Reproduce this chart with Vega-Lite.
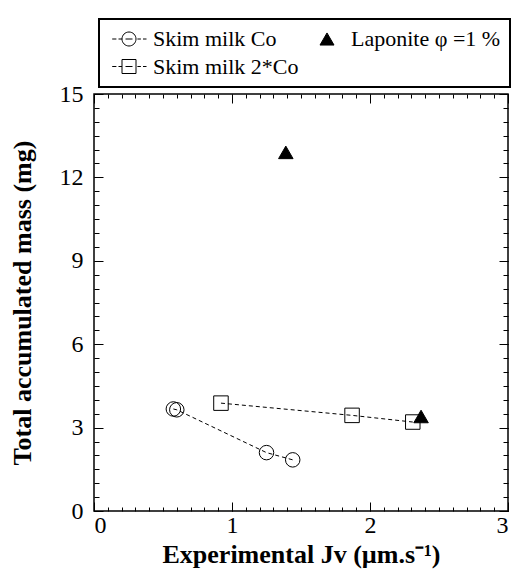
{
  "$schema": "https://vega.github.io/schema/vega-lite/v6.json",
  "width": 414,
  "height": 417,
  "autosize": "none",
  "padding": {"left": 94, "top": 94, "right": 4, "bottom": 68},
  "background": "white",
  "config": {
    "font": "Liberation Serif",
    "view": {"stroke": "black", "strokeWidth": 1.5},
    "axis": {
      "domain": false,
      "grid": false,
      "tickColor": "black",
      "tickWidth": 1,
      "labelColor": "black",
      "titleColor": "black",
      "labelFont": "Liberation Serif",
      "labelFontSize": 24,
      "titleFont": "Liberation Serif",
      "titleFontSize": 26,
      "titleFontWeight": "bold"
    },
    "legend": {
      "labelFont": "Liberation Serif",
      "labelFontSize": 22,
      "labelColor": "black",
      "strokeColor": "black",
      "fillColor": "white",
      "strokeWidth": 2
    }
  },
  "data": {
    "values": [
      {"series": "Skim milk Co", "jv": 0.575, "mass": 3.67},
      {"series": "Skim milk Co", "jv": 0.6, "mass": 3.64},
      {"series": "Skim milk Co", "jv": 1.25, "mass": 2.1},
      {"series": "Skim milk Co", "jv": 1.44, "mass": 1.84},
      {"series": "Skim milk 2*Co", "jv": 0.92, "mass": 3.88},
      {"series": "Skim milk 2*Co", "jv": 1.87, "mass": 3.44},
      {"series": "Skim milk 2*Co", "jv": 2.31, "mass": 3.2},
      {"series": "Laponite φ =1 %", "jv": 1.39, "mass": 12.9},
      {"series": "Laponite φ =1 %", "jv": 2.37, "mass": 3.4}
    ]
  },
  "resolve": {
    "axis": {"x": "independent", "y": "independent"},
    "scale": {"shape": "independent", "fill": "independent"}
  },
  "layer": [
    {
      "transform": [{"filter": "datum.series === 'Skim milk Co'"}],
      "mark": {"type": "line", "stroke": "black", "strokeWidth": 1, "strokeDash": [4, 3]},
      "encoding": {
        "x": {"field": "jv", "type": "quantitative", "scale": {"domain": [0, 3], "nice": false},
          "axis": {"orient": "bottom", "values": [0, 1, 2, 3], "tickSize": -9, "labelPadding": 11, "title": "Experimental Jv (µm.s⁻¹)", "titleFontSize": 26, "titlePadding": 4}},
        "y": {"field": "mass", "type": "quantitative", "scale": {"domain": [0, 15], "nice": false},
          "axis": {"orient": "left", "values": [0, 3, 6, 9, 12, 15], "tickSize": -9, "labelPadding": 20, "title": "Total accumulated mass (mg)", "titlePadding": 24}}
      }
    },
    {
      "transform": [{"filter": "datum.series === 'Skim milk 2*Co'"}],
      "mark": {"type": "line", "stroke": "black", "strokeWidth": 1, "strokeDash": [4, 3]},
      "encoding": {
        "x": {"field": "jv", "type": "quantitative",
          "axis": {"orient": "bottom", "values": [0,0.1,0.2,0.3,0.4,0.5,0.6,0.7,0.8,0.9,1,1.1,1.2,1.3,1.4,1.5,1.6,1.7,1.8,1.9,2,2.1,2.2,2.3,2.4,2.5,2.6,2.7,2.8,2.9,3], "tickSize": -4, "labels": false, "title": null}},
        "y": {"field": "mass", "type": "quantitative",
          "axis": {"orient": "left", "values": [0,0.5,1,1.5,2,2.5,3,3.5,4,4.5,5,5.5,6,6.5,7,7.5,8,8.5,9,9.5,10,10.5,11,11.5,12,12.5,13,13.5,14,14.5,15], "tickSize": -5, "labels": false, "title": null}}
      }
    },
    {
      "transform": [{"filter": "false"}],
      "mark": {"type": "point", "stroke": "black", "strokeWidth": 1, "opacity": 1},
      "encoding": {
        "x": {"field": "jv", "type": "quantitative",
          "axis": {"orient": "top", "values": [0, 1, 2, 3], "tickSize": -9, "labels": false, "title": null}},
        "y": {"field": "mass", "type": "quantitative",
          "axis": {"orient": "right", "values": [0, 3, 6, 9, 12, 15], "tickSize": -9, "labels": false, "title": null}},
        "shape": {"field": "series", "type": "nominal",
          "scale": {"domain": ["Skim milk Co", "Skim milk 2*Co", "Laponite φ =1 %"],
            "range": ["M-2.4,0L-1.8,0M-1.5,0L-1,0M-0.5,0L0.5,0M-1,0A1,1,0,1,0,1,0A1,1,0,1,0,-1,0M1.2,0L1.7,0M2,0L2.5,0", "M-2.4,0L-1.8,0M-1.5,0L-1,0M-1,-1L1,-1L1,1L-1,1ZM-0.5,0L0.5,0M1.2,0L1.7,0M2,0L2.5,0", "triangle-up"]},
          "legend": {
            "orient": "none", "legendX": 5, "legendY": -75, "columns": 2, "title": null,
            "padding": 9, "columnPadding": 7, "rowPadding": 5.5, "labelOffset": 13, "symbolSize": 196,
            "symbolOffset": 10, "labelFont": "Liberation Serif", "labelFontSize": 22, "symbolStrokeWidth": 1
          }},
        "fill": {"field": "series", "type": "nominal",
          "scale": {"domain": ["Skim milk Co", "Skim milk 2*Co", "Laponite φ =1 %"], "range": ["transparent", "transparent", "black"]},
          "legend": {"orient": "none", "legendX": 5, "legendY": -75, "columns": 2, "title": null,
            "padding": 9, "columnPadding": 7, "rowPadding": 5.5, "labelOffset": 13, "symbolSize": 196,
            "symbolOffset": 10}}
      }
    },
    {
      "mark": {"type": "point", "stroke": "black", "strokeWidth": 1, "opacity": 1, "size": 210},
      "encoding": {
        "x": {"field": "jv", "type": "quantitative",
          "axis": {"orient": "top", "values": [0,0.1,0.2,0.3,0.4,0.5,0.6,0.7,0.8,0.9,1,1.1,1.2,1.3,1.4,1.5,1.6,1.7,1.8,1.9,2,2.1,2.2,2.3,2.4,2.5,2.6,2.7,2.8,2.9,3], "tickSize": -4, "labels": false, "title": null}},
        "y": {"field": "mass", "type": "quantitative",
          "axis": {"orient": "right", "values": [0,0.5,1,1.5,2,2.5,3,3.5,4,4.5,5,5.5,6,6.5,7,7.5,8,8.5,9,9.5,10,10.5,11,11.5,12,12.5,13,13.5,14,14.5,15], "tickSize": -5, "labels": false, "title": null}},
        "shape": {"field": "series", "type": "nominal",
          "scale": {"domain": ["Skim milk Co", "Skim milk 2*Co", "Laponite φ =1 %"], "range": ["circle", "square", "triangle-up"]},
          "legend": null},
        "fill": {"field": "series", "type": "nominal",
          "scale": {"domain": ["Skim milk Co", "Skim milk 2*Co", "Laponite φ =1 %"], "range": ["transparent", "transparent", "black"]},
          "legend": null}
      }
    }
  ]
}
